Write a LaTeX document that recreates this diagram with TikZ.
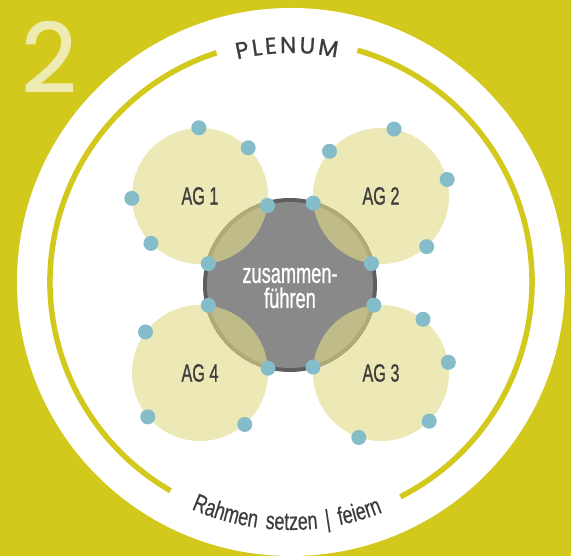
\documentclass[tikz,border=0pt]{standalone}
\usepackage{fontspec}
\usetikzlibrary{decorations.text}
\newfontfamily\condfont[FakeStretch=0.65,FakeBold=0.8]{Liberation Sans}
\newfontfamily\arcfont[FakeStretch=0.72,FakeBold=0.3,WordSpace=1.7]{Liberation Sans}
\newfontfamily\geofont[FakeBold=0.9,WordSpace=0.45]{Poppins}
\newfontfamily\numfont[FakeBold=1.2]{Poppins}
\definecolor{bgyellow}{HTML}{D2C91C}
\definecolor{agfill}{HTML}{EDE9B6}
\definecolor{dotblue}{HTML}{84BCC9}
\definecolor{ringgray}{HTML}{5E5E5E}
\definecolor{coregray}{HTML}{898989}
\definecolor{olivein}{HTML}{BFBC89}
\definecolor{olivering}{HTML}{AEAB77}
\definecolor{txtgray}{HTML}{3C3C3C}
\definecolor{pale}{HTML}{EDEBB2}
\begin{document}
\begin{tikzpicture}[x=1pt,y=1pt,
  agcircle/.style={circle, fill=agfill, minimum size=136pt, inner sep=0pt,
    font=\condfont\fontsize{25}{25}\selectfont, text=txtgray},
  dotnode/.style={circle, fill=dotblue, minimum size=15pt, inner sep=0pt},
  ringline/.style={draw=bgyellow, line width=5.5pt},
]
\fill[bgyellow] (0,0) rectangle (571,556);
\useasboundingbox (0,0) rectangle (571,556);
\coordinate (O) at (291,274);
\fill[white] (O) circle (274);
% ring with gaps
\draw[ringline] (O) ++(-63:241) arc[start angle=-63, end angle=74, radius=241];
\draw[ringline] (O) ++(108:241) arc[start angle=108, end angle=240, radius=241];
% number
\node[font=\numfont\fontsize{96}{96}\selectfont, text=pale, anchor=base, inner sep=0pt] (num) at (49,464) {2};
% AG circles
\node[agcircle] (ag1) at (200,360) {AG 1};
\node[agcircle] (ag2) at (381,360) {AG 2};
\node[agcircle] (ag3) at (381,183) {AG 3};
\node[agcircle] (ag4) at (200,183) {AG 4};
% core
\node[circle, fill=ringgray, minimum size=174pt, inner sep=0pt] (core) at (290,271) {};
\fill[coregray] (core.center) circle (83);
\begin{scope}
  \clip (core.center) circle (87);
  \foreach \n in {ag1,ag2,ag3,ag4} \fill[olivering] (\n.center) circle (68);
\end{scope}
\begin{scope}
  \clip (core.center) circle (83);
  \foreach \n in {ag1,ag2,ag3,ag4} \fill[olivein] (\n.center) circle (68);
\end{scope}
\node[font=\condfont\fontsize{28}{25}\selectfont, text=white, align=center] (coretext) at (290,268) {zusammen-\\führen};
% dots
\foreach \n/\a [count=\i] in {ag1/91.7, ag1/45, ag1/182.6, ag1/224.4, ag1/352.5, ag1/277.7,
  ag2/79.8, ag2/139.1, ag2/14.2, ag2/312.1, ag2/186.7, ag2/262.3,
  ag3/96.8, ag3/52, ag3/9.3, ag3/315, ag3/251, ag3/175.8,
  ag4/83.2, ag4/143.5, ag4/220, ag4/311.3, ag4/4.3}
  \node[dotnode] (dot\i) at (\n.\a) {};
% arc texts
\path[decorate, decoration={text along path,
  text={|\geofont\fontsize{23}{23}\selectfont\color{txtgray}|P L E N U M},
  text align=center}]
  (O) ++(115:229) arc[start angle=115, end angle=67, radius=229];
\path[decorate, decoration={text along path,
  text={|\arcfont\fontsize{25}{25}\selectfont\color{txtgray}|Rahmen setzen {\textbar} feiern},
  text align=center}]
  (O) ++(-125:248) arc[start angle=-125, end angle=-57, radius=248];
\end{tikzpicture}
\end{document}
